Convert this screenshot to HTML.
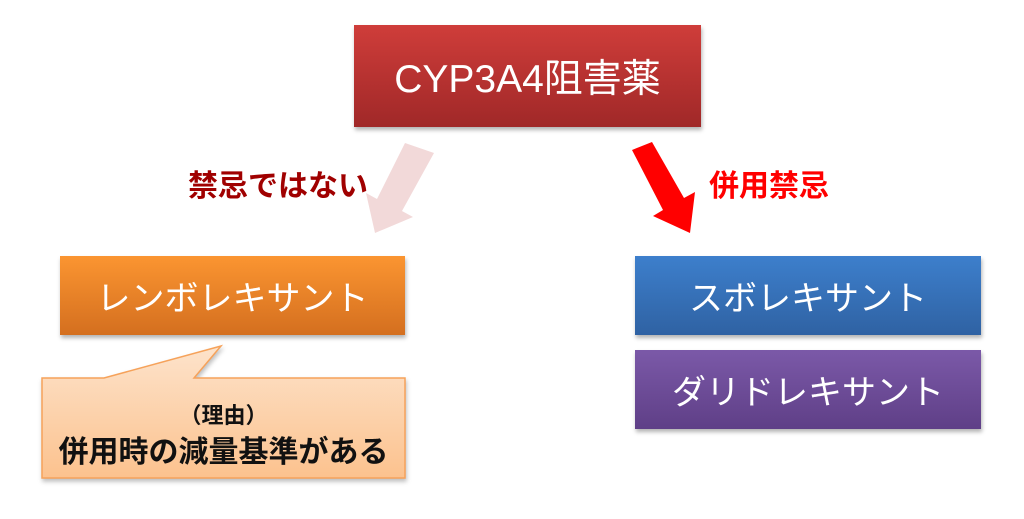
<!DOCTYPE html>
<html><head><meta charset="utf-8"><style>
body{margin:0;width:1024px;height:519px;background:#fff;position:relative;overflow:hidden;font-family:"Liberation Sans","Noto Sans CJK JP",sans-serif;}
.b{position:absolute;color:#fff;display:flex;align-items:center;justify-content:center;font-size:34px;box-shadow:1px 3px 4px rgba(0,0,0,0.3);}
.t{position:absolute;font-size:30px;white-space:nowrap;font-weight:bold;}
</style></head><body>
<div class="b" style="left:354px;top:25px;width:347px;height:102px;background:linear-gradient(#cf3d3a,#a02828);font-size:39px;">CYP3A4阻害薬</div>
<div class="b" style="left:60px;top:256px;width:345px;height:79px;background:linear-gradient(#fb9531,#d46f1f);">レンボレキサント</div>
<div class="b" style="left:635px;top:256px;width:346px;height:79px;background:linear-gradient(#3d7fcc,#2f62a3);">スボレキサント</div>
<div class="b" style="left:635px;top:350px;width:346px;height:79px;background:linear-gradient(#7b59a8,#5f3f87);">ダリドレキサント</div>
<svg width="1024" height="519" style="position:absolute;left:0;top:0">
<defs><linearGradient id="g" x1="0" y1="0" x2="0" y2="1"><stop offset="0" stop-color="#fde3cb"/><stop offset="1" stop-color="#fcc28e"/></linearGradient></defs>
<polygon points="42,378 104,378 221,346 194,378 405,378 405,478 42,478" fill="url(#g)" stroke="#f6a25a" stroke-width="1.5" style="filter:drop-shadow(1px 3px 2px rgba(0,0,0,0.25))"/>
<polygon points="405,143 434,153 402,211 413,217 375,233 366,193 377,199" fill="#f2d9d9"/>
<polygon points="632,150 652,142 684,198 695,192 690,233 653,216 663,210" fill="#ff0000"/>
</svg>
<div class="t" style="left:188px;top:161px;color:#a00000;">禁忌ではない</div>
<div class="t" style="left:709px;top:161px;color:#ff0000;">併用禁忌</div>
<div class="t" style="left:42px;width:363px;text-align:center;top:398px;font-size:22px;color:#111;">（理由）</div>
<div class="t" style="left:42px;width:363px;text-align:center;top:427px;font-size:30px;color:#111;">併用時の減量基準がある</div>
</body></html>
